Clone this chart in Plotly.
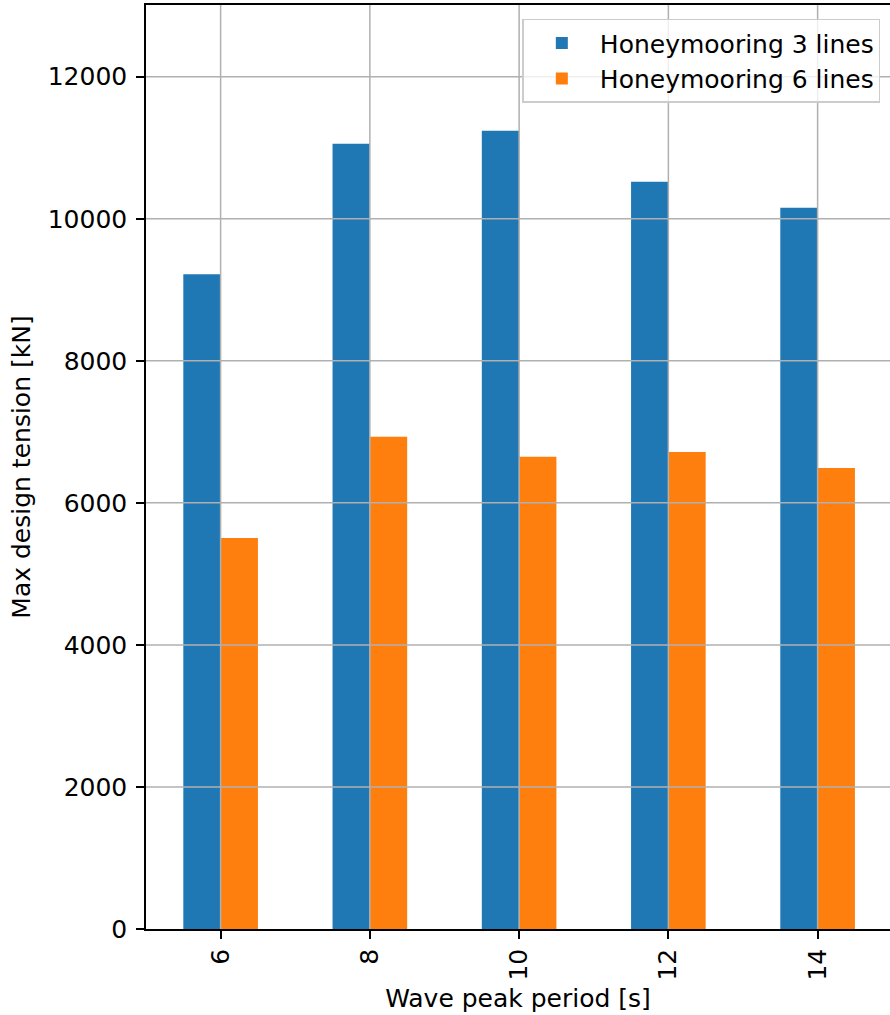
import plotly.graph_objects as go

categories = ["6", "8", "10", "12", "14"]
series_3_lines = [9220, 11055, 11240, 10520, 10155]
series_6_lines = [5505, 6930, 6650, 6715, 6490]
y_ticks = [0, 2000, 4000, 6000, 8000, 10000, 12000]

FONT = "DejaVu Sans"
FS = 25
GRID = "#b0b0b0"

fig = go.Figure()
fig.add_trace(go.Bar(x=categories, y=series_3_lines, name="Honeymooring 3 lines",
                     marker=dict(color="#1f77b4", line=dict(width=0))))
fig.add_trace(go.Bar(x=categories, y=series_6_lines, name="Honeymooring 6 lines",
                     marker=dict(color="#ff7f0e", line=dict(width=0))))

# grid lines drawn above the bars (as in the reference)
for t in y_ticks[1:]:
    fig.add_shape(type="line", xref="paper", yref="y", x0=0, x1=1, y0=t, y1=t,
                  line=dict(color=GRID, width=1.5), layer="above")
for i, _ in enumerate(categories):
    fig.add_shape(type="line", xref="x", yref="paper", x0=i, x1=i, y0=0, y1=1,
                  line=dict(color=GRID, width=1.5), layer="above")

fig.update_layout(
    width=890, height=1015,
    margin=dict(l=146, r=0, t=5, b=86),
    paper_bgcolor="white", plot_bgcolor="white",
    font=dict(family=FONT, size=FS, color="black"),
    barmode="group", bargap=0.5, bargroupgap=0,
    showlegend=True,
    legend=dict(x=0.987, y=0.985, xanchor="right", yanchor="top",
                bgcolor="rgba(255,255,255,0.8)", bordercolor="#cccccc", borderwidth=1.5,
                font=dict(family=FONT, size=FS), itemwidth=66, tracegroupgap=4),
    xaxis=dict(type="category", range=[-0.5, 4.485], showgrid=False,
               showline=True, linecolor="black", linewidth=1.5, mirror=True,
               ticks="outside", ticklen=8, tickwidth=1.5, tickcolor="black",
               tickangle=-90, tickfont=dict(family=FONT, size=FS),
               title=dict(text="Wave peak period [s]", font=dict(family=FONT, size=FS), standoff=10),
               automargin=False),
    yaxis=dict(range=[0, 13010], tickvals=y_ticks, tickformat="d", showgrid=False, zeroline=False,
               showline=True, linecolor="black", linewidth=1.5, mirror=False,
               ticks="outside", ticklen=8, tickwidth=1.5, tickcolor="black",
               ticklabelstandoff=4,
               tickfont=dict(family=FONT, size=FS),
               title=dict(text="Max design tension [kN]", font=dict(family=FONT, size=FS), standoff=10),
               automargin=False),
)

fig.write_html("out.html")
